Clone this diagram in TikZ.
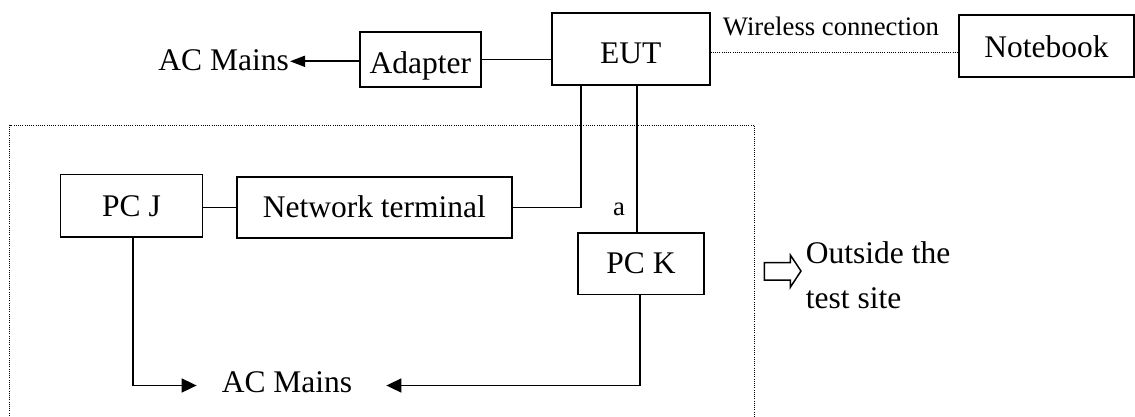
\documentclass[tikz,border=0pt]{standalone}
\usepackage{fontspec}
\setmainfont{Liberation Serif}
\usetikzlibrary{arrows.meta}
\begin{document}
\begin{tikzpicture}[x=1pt,y=-1pt,
  box/.style={draw,line width=1.8pt,inner sep=0pt,text depth=0pt,font=\fontsize{31.5}{38}\selectfont},
  lbl/.style={inner sep=0pt,font=\fontsize{31.5}{45}\selectfont},
  small/.style={inner sep=0pt,font=\fontsize{26.7}{32}\selectfont},
  conn/.style={line width=1.7pt},
  dots/.style={line width=1pt,dash pattern=on 1pt off 1.2pt},
  tipA/.style={-{Triangle[length=15pt,width=11pt]}},
  tipB/.style={-{Triangle[length=15pt,width=14pt]}}]
\useasboundingbox (0,0) rectangle (1135,416);
% boxes
\node[box,minimum width=121.4pt,minimum height=55pt,text height=27pt] (adapter) at (420.3,59.5) {Adapter};
\node[box,minimum width=157.6pt,minimum height=72.3pt,text height=28.8pt] (eut) at (630.8,48.9) {EUT};
\node[box,minimum width=175pt,minimum height=62.3pt,text height=22.2pt] (notebook) at (1046.5,46.2) {Notebook};
\node[box,minimum width=142pt,minimum height=62.2pt,text height=22.2pt] (pcj) at (131.5,205.6) {PC J};
\node[box,minimum width=275pt,minimum height=61pt,text height=19pt] (nt) at (374.4,207.5) {Network terminal};
\node[box,minimum width=126pt,minimum height=61.5pt,text height=19.6pt] (pck) at (641,263.7) {PC K};
% texts
\node[lbl,anchor=base east,inner xsep=1pt,text height=17.4pt,text depth=0pt] (acm1) at (290,70) {AC Mains};
\node[lbl,anchor=base,text height=13.6pt,text depth=0pt] (acm2) at (287,392.3) {AC Mains};
\node[small,anchor=base] (wl) at (831,35) {Wireless connection};
\node[small,anchor=base] (a) at (619,215) {a};
\node[lbl,anchor=north west,align=left] (out) at (805.7,241.6) {Outside the\\test site};
% test site boundary
\draw[dots] (9.6,418) -- (9.6,125) -- (754.4,125) -- (754.4,418);
% connectors
\draw[conn,tipA] (adapter.west |- acm1.east) -- (acm1.east);
\draw[conn] (adapter.east) -- (adapter.east -| eut.west);
\draw[dots] (eut.east |- 0,52.3) -- (notebook.west |- 0,52.3);
\draw[conn] (pcj.east |- nt.west) -- (nt.west);
\draw[conn] (nt.east) -| ([xshift=-49.8pt]eut.south);
\draw[conn] ([xshift=6.2pt]eut.south) -- ([xshift=6.2pt]eut.south |- pck.north);
\draw[conn,tipB,shorten >=25pt] ([xshift=1.5pt]pcj.south) |- (acm2.west);
\draw[conn,tipB,shorten >=34pt] ([xshift=-1pt]pck.south) |- (acm2.east);
% outside arrow
\draw[line width=1.5pt,line join=miter] (764.3,262.7) -- (790.3,262.7) -- (790.3,255) -- (801,271) -- (790.3,287.3) -- (790.3,280) -- (764.3,280) -- cycle;
\end{tikzpicture}
\end{document}
